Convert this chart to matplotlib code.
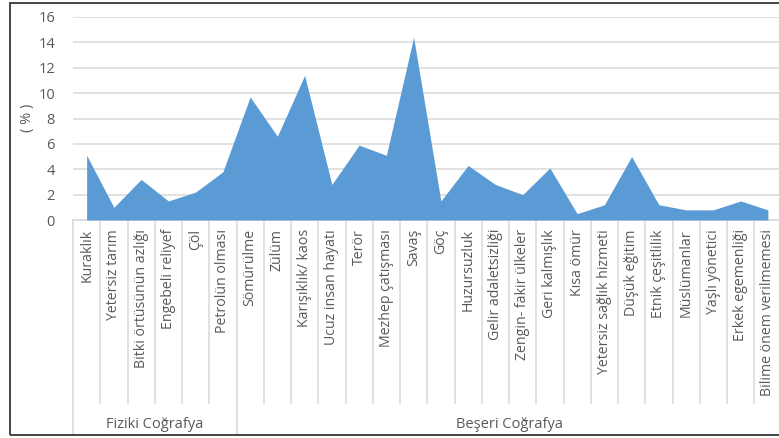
import matplotlib
matplotlib.use("Agg")
import matplotlib.pyplot as plt
from matplotlib.patches import Rectangle
from matplotlib.lines import Line2D

categories = ["Kuraklık", "Yetersiz tarım", "Bitki örtüsünün azlığı", "Engebeli reliyef",
              "Çöl", "Petrolün olması", "Sömürülme", "Zülüm", "Karışıklık/ kaos",
              "Ucuz insan hayatı", "Terör", "Mezhep çatışması", "Savaş", "Göç",
              "Huzursuzluk", "Gelir adaletsizliği", "Zengin- fakir ülkeler", "Geri kalmışlık",
              "Kısa ömür", "Yetersiz sağlık hizmeti", "Düşük eğitim", "Etnik çeşitlilik",
              "Müslümanlar", "Yaşlı yönetici", "Erkek egemenliği", "Bilime önem verilmemesi"]
values = [5.1, 1.0, 3.2, 1.5, 2.2, 3.8, 9.7, 6.6, 11.4, 2.8, 5.9, 5.1, 14.4, 1.5,
          4.3, 2.8, 2.0, 4.1, 0.5, 1.2, 5.0, 1.2, 0.8, 0.8, 1.5, 0.8]
groups = ["Fiziki Coğrafya", "Beşeri Coğrafya"]
group_sizes = [6, 20]
yticks = [0, 2, 4, 6, 8, 10, 12, 14, 16]

plt.rcParams['font.family'] = ['Open Sans', 'DejaVu Sans']
W, H = 779, 438
fig = plt.figure(figsize=(W / 100, H / 100), dpi=100)

# axes geometry in pixels
x0, x1 = 73, 781.5
y_top, y_bot = 17, 220
ax = fig.add_axes([x0 / W, 1 - y_bot / H, (x1 - x0) / W, (y_bot - y_top) / H])

n = len(categories)
xs = [i + 0.5 for i in range(n)]
ax.fill_between(xs, values, 0, color="#5b9bd5", linewidth=0, zorder=3)
ax.set_xlim(0, n)
ax.set_ylim(0, 16)
ax.set_yticks(yticks)
ax.set_yticklabels([str(t) for t in yticks], color="#595959", fontsize=10.5)
ax.tick_params(axis='y', length=0, pad=13)
ax.set_xticks([])
ax.grid(axis='y', color="#d9d9d9", linewidth=1.1, zorder=0)
for s in ["top", "right", "left"]:
    ax.spines[s].set_visible(False)
ax.spines["bottom"].set_color("#d9d9d9")
ax.spines["bottom"].set_linewidth(1.1)

ph = y_bot - y_top
def ay(px):
    return (y_bot - px) / ph

trans = ax.get_xaxis_transform()
# category separators
group_edges = [0]
for g in group_sizes:
    group_edges.append(group_edges[-1] + g)
for b in range(n + 1):
    bottom = 435 if b in group_edges else 403
    ax.add_line(Line2D([b, b], [0, ay(bottom)], transform=trans, color="#d9d9d9",
                       linewidth=1.1, clip_on=False))

labels = []
for x, lab in zip(xs, categories):
    labels.append(ax.text(x, ay(229), lab, transform=trans, rotation=90, ha='center',
                          va='top', fontsize=9.5, color="#595959"))

# fit label size so that the longest label spans about the same length as in the reference
renderer = fig.canvas.get_renderer()
ref = labels[-1]
h = ref.get_window_extent(renderer).height
fs = 9.5 * 168.0 / h
for t in labels:
    t.set_fontsize(fs)

for gi, g in enumerate(groups):
    cx = (group_edges[gi] + group_edges[gi + 1]) / 2
    ax.text(cx, ay(425), g, transform=trans, ha='center', va='center',
            fontsize=10.5, color="#595959")

fig.text(27 / W, 1 - 118 / H, "( % )", rotation=90, ha='center', va='center',
         fontsize=10.5, color="#595959")

# outer frame
fig.patches.append(Rectangle((10 / W, 1 - 435 / H), 780 / W, (434 - 2) / H,
                             transform=fig.transFigure, fill=False,
                             edgecolor="#262626", linewidth=1.2))

fig.savefig("out.png", dpi=100)
